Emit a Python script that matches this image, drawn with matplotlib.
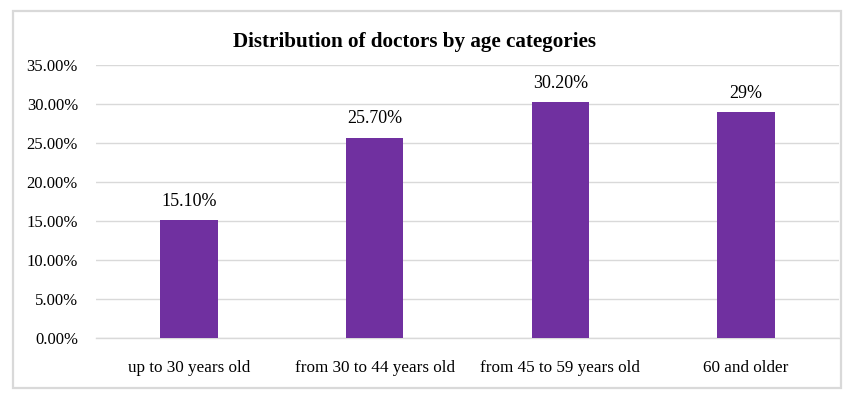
import matplotlib
matplotlib.use("Agg")
import matplotlib.pyplot as plt
from matplotlib.patches import Rectangle
from matplotlib.ticker import FuncFormatter

categories = ["up to 30 years old", "from 30 to 44 years old", "from 45 to 59 years old", "60 and older"]
values = [15.10, 25.70, 30.20, 29.0]
value_labels = ["15.10%", "25.70%", "30.20%", "29%"]
title = "Distribution of doctors by age categories"

plt.rcParams['font.family'] = ['Liberation Serif', 'DejaVu Serif']

W, H = 852, 399
fig = plt.figure(figsize=(W / 100, H / 100), dpi=100)
fig.patch.set_facecolor("white")

# outer chart border
fig.add_artist(Rectangle((12.5 / W, 1 - 388 / H), (841 - 12.5) / W, (388 - 11) / H,
                         transform=fig.transFigure, fill=False,
                         edgecolor="#d9d9d9", linewidth=1.6))

ax = fig.add_axes([96 / W, 1 - 338 / H, (839 - 96) / W, (338 - 65) / H])
x = range(len(categories))
bars = ax.bar(x, values, width=0.31, color="#7030A0", zorder=3)
ax.set_xlim(-0.5, len(categories) - 0.5)
ax.set_ylim(0, 35)
ax.set_yticks([0, 5, 10, 15, 20, 25, 30, 35])
ax.yaxis.set_major_formatter(FuncFormatter(lambda v, p: f"{v:.2f}%"))
ax.set_xticks(list(x))
ax.set_xticklabels(categories)
ax.grid(axis="y", color="#d9d9d9", linewidth=1.0, zorder=0)
for s in ["top", "right", "left"]:
    ax.spines[s].set_visible(False)
ax.spines["bottom"].set_color("#d9d9d9")
ax.spines["bottom"].set_linewidth(1.0)
ax.tick_params(axis="both", length=0)
ax.tick_params(axis="y", labelsize=12, pad=13, colors="#000000")
ax.tick_params(axis="x", labelsize=12.3, pad=16)

for b, lab in zip(bars, value_labels):
    ax.annotate(lab, (b.get_x() + b.get_width() / 2, b.get_height()),
                xytext=(0, 13.5), textcoords="offset points",
                ha="center", va="center", fontsize=13)

fig.text(414.5 / W, 1 - 42 / H, title, ha="center", va="center",
         fontsize=15.2, fontweight="bold")

fig.savefig("out.png", dpi=100)
